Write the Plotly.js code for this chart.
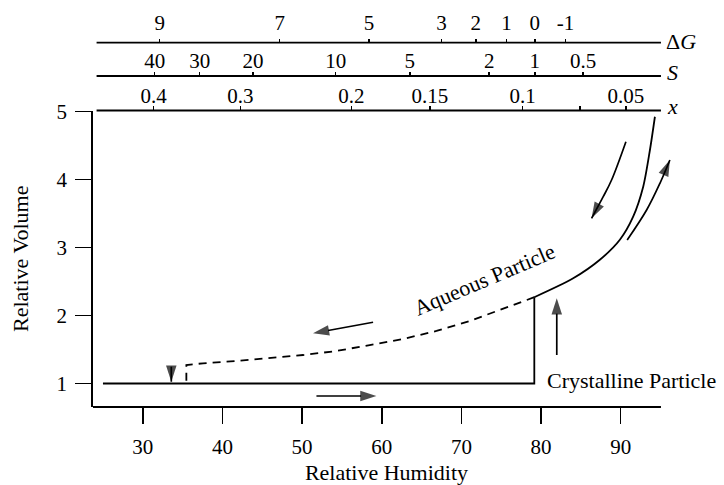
<!DOCTYPE html>
<html><head><meta charset="utf-8">
<script src="https://cdn.plot.ly/plotly-3.0.1.min.js"></script>
<style>html,body{margin:0;padding:0;background:#fff}#chart{width:724px;height:485px}</style>
</head><body><div id="chart"></div>
<script>
// ---- axis ticks ----
const rhRange = [23.75, 97.44];
const rhAxisEnd = 95.05;
const volRange = [0.654, 5.018];
const rhTicks = [30, 40, 50, 60, 70, 80, 90];
const volTicks = [1, 2, 3, 4, 5];
const dgLabels = ['9', '7', '5', '3', '2', '1', '0', '-1'];
const dgTickRH = [32.12, 47.19, 58.40, 67.50, 71.81, 75.66, 79.22, 83.07];
const sLabels = ['40', '30', '20', '10', '5', '2', '1', '0.5'];
const sTickRH = [31.49, 37.14, 43.84, 54.22, 63.52, 73.48, 79.22, 85.28];
const xLabels = ['0.4', '0.3', '0.2', '0.15', '0.1', '', '0.05'];
const xTickRH = [31.36, 42.25, 56.19, 66.03, 77.67, 84.87, 90.65];

// ---- curves ----
const crystRH = [25.0, 79.15, 79.15];
const crystVol = [1.0, 1.0, 2.27];
const aqRH = [79.15, 84.03, 87.38, 89.89, 91.56, 92.82, 93.66, 94.29];
const aqVol = [2.27, 2.548, 2.821, 3.115, 3.455, 3.896, 4.433, 4.926];
const effRH = [79.15, 75.23, 71.05, 66.87, 62.68, 58.49, 54.31, 50.12, 45.93, 41.75, 37.56, 35.47, 35.47];
const effVol = [2.27, 2.096, 1.920, 1.773, 1.655, 1.566, 1.478, 1.419, 1.371, 1.331, 1.297, 1.272, 1.0];

// ---- arrows ----
const arrowDownRH = [33.58, 33.58], arrowDownVol = [1.247, 1.026];
const arrowLeftRH = [58.91, 51.37], arrowLeftVol = [1.901, 1.739];
const arrowRightRH = [51.8, 59.33], arrowRightVol = [0.816, 0.816];
const arrowUpRH = [81.97, 81.97], arrowUpVol = [1.419, 2.254];
const curveDownRH = [90.65, 88.85, 87.80, 86.34], curveDownVol = [4.559, 3.995, 3.749, 3.431];
const curveUpRH = [90.81, 93.25, 94.92, 96.17], curveUpVol = [3.112, 3.553, 3.946, 4.289];

// ---- labels ----
const aqueousLabel = {text: 'Aqueous Particle', rh: 72.91, vol: 2.531, angle: -23};
const crystLabel = {text: 'Crystalline Particle', rh: 80.55, vol: 1.05};

const FONT = '"Liberation Serif", "Times New Roman", serif';
const BLACK = '#000';

function line(x, y, opts) {
  return Object.assign({type: 'scatter', mode: 'lines', x: x, y: y, hoverinfo: 'skip',
    line: {color: BLACK, width: 1.8}}, opts || {});
}
function arrow(x, y, shape) {
  const sizes = x.map((v, i) => i === x.length - 1 ? 17 : 0);
  return {type: 'scatter', mode: 'lines+markers', x: x, y: y, hoverinfo: 'skip',
    line: {color: BLACK, width: 1.7, shape: shape || 'linear'},
    marker: {symbol: 'arrow', size: sizes, angleref: 'previous', color: BLACK, line: {width: 0}}};
}

const traces = [
  line(crystRH, crystVol),
  line(aqRH, aqVol, {line: {color: BLACK, width: 1.8, shape: 'spline', smoothing: 0.8}}),
  line(effRH, effVol, {line: {color: BLACK, width: 1.8, dash: '8px,6px'}}),
  arrow(arrowDownRH, arrowDownVol),
  arrow(arrowLeftRH, arrowLeftVol),
  arrow(arrowRightRH, arrowRightVol),
  arrow(arrowUpRH, arrowUpVol),
  arrow(curveDownRH, curveDownVol, 'spline'),
  arrow(curveUpRH, curveUpVol, 'spline'),
  {type: 'scatter', x: [], y: [], xaxis: 'x2', yaxis: 'y', hoverinfo: 'skip'},
  {type: 'scatter', x: [], y: [], xaxis: 'x3', yaxis: 'y', hoverinfo: 'skip'},
  {type: 'scatter', x: [], y: [], xaxis: 'x4', yaxis: 'y', hoverinfo: 'skip'}
];

const tickFont = {family: FONT, size: 21, color: BLACK};
const titleFont = {family: FONT, size: 22, color: BLACK};
const baseAx = {range: rhRange, autorange: false, showgrid: false, zeroline: false, showline: false,
  ticks: 'outside', tickcolor: BLACK, tickwidth: 1.5,
  fixedrange: true, tickfont: tickFont, automargin: false};

const H = 485, T = 20, B = 78, plotH = H - T - B;
function py(pix) { return (H - B - pix) / plotH; }
const dgPos = py(42.7), sPos = py(76), yTop = py(110.5);

function axisLine(x0, yPaper) {
  return {type: 'line', xref: 'x', yref: 'paper', x0: x0, x1: rhAxisEnd, y0: yPaper, y1: yPaper,
    line: {color: BLACK, width: 1.8}, layer: 'above'};
}

const layout = {
  width: 724, height: 485,
  margin: {l: 93, r: 44, t: T, b: B},
  paper_bgcolor: '#fff', plot_bgcolor: '#fff',
  showlegend: false,
  font: {family: FONT, color: BLACK},
  xaxis: Object.assign({}, baseAx, {tickvals: rhTicks, ticklen: 16, ticklabelstandoff: 5,
    title: {text: 'Relative Humidity', font: titleFont, standoff: 16}}),
  xaxis2: Object.assign({}, baseAx, {overlaying: 'x', anchor: 'free', position: dgPos, side: 'top',
    tickvals: dgTickRH, ticktext: dgLabels, ticklen: 4, ticklabelstandoff: 0}),
  xaxis3: Object.assign({}, baseAx, {overlaying: 'x', anchor: 'free', position: sPos, side: 'top',
    tickvals: sTickRH, ticktext: sLabels, ticklen: 4, ticklabelstandoff: -4}),
  xaxis4: Object.assign({}, baseAx, {overlaying: 'x', anchor: 'y', side: 'top',
    tickvals: xTickRH, ticktext: xLabels, ticklen: 4, ticklabelstandoff: -6}),
  yaxis: {domain: [0, yTop], range: volRange, autorange: false, showgrid: false, zeroline: false,
    showline: true, linecolor: BLACK, linewidth: 1.8, ticks: 'outside', ticklen: 16, tickwidth: 1.5,
    tickcolor: BLACK, tickvals: volTicks, tickfont: tickFont, ticklabelstandoff: 4, fixedrange: true,
    automargin: false, title: {text: 'Relative Volume', font: titleFont, standoff: 22}},
  shapes: [
    axisLine(rhRange[0], 0),
    axisLine(24.2, yTop),
    axisLine(24.2, sPos),
    axisLine(24.2, dgPos)
  ],
  annotations: [
    {xref: 'x', yref: 'paper', x: rhAxisEnd, y: py(41.7), xanchor: 'left', yanchor: 'middle', xshift: 3,
     text: 'Δ<i>G</i>', showarrow: false, font: titleFont},
    {xref: 'x', yref: 'paper', x: rhAxisEnd, y: py(72.5), xanchor: 'left', yanchor: 'middle', xshift: 4,
     text: '<i>S</i>', showarrow: false, font: titleFont},
    {xref: 'x', yref: 'paper', x: rhAxisEnd, y: py(107), xanchor: 'left', yanchor: 'middle', xshift: 4,
     text: '<i>x</i>', showarrow: false, font: titleFont},
    {xref: 'x', yref: 'y', x: aqueousLabel.rh, y: aqueousLabel.vol, text: aqueousLabel.text,
     textangle: aqueousLabel.angle, showarrow: false, font: titleFont},
    {xref: 'x', yref: 'y', x: crystLabel.rh, y: crystLabel.vol, xanchor: 'left', yanchor: 'middle',
     text: crystLabel.text, showarrow: false, font: titleFont}
  ]
};

Plotly.newPlot('chart', traces, layout, {staticPlot: true, displayModeBar: false});
</script>
</body></html>
